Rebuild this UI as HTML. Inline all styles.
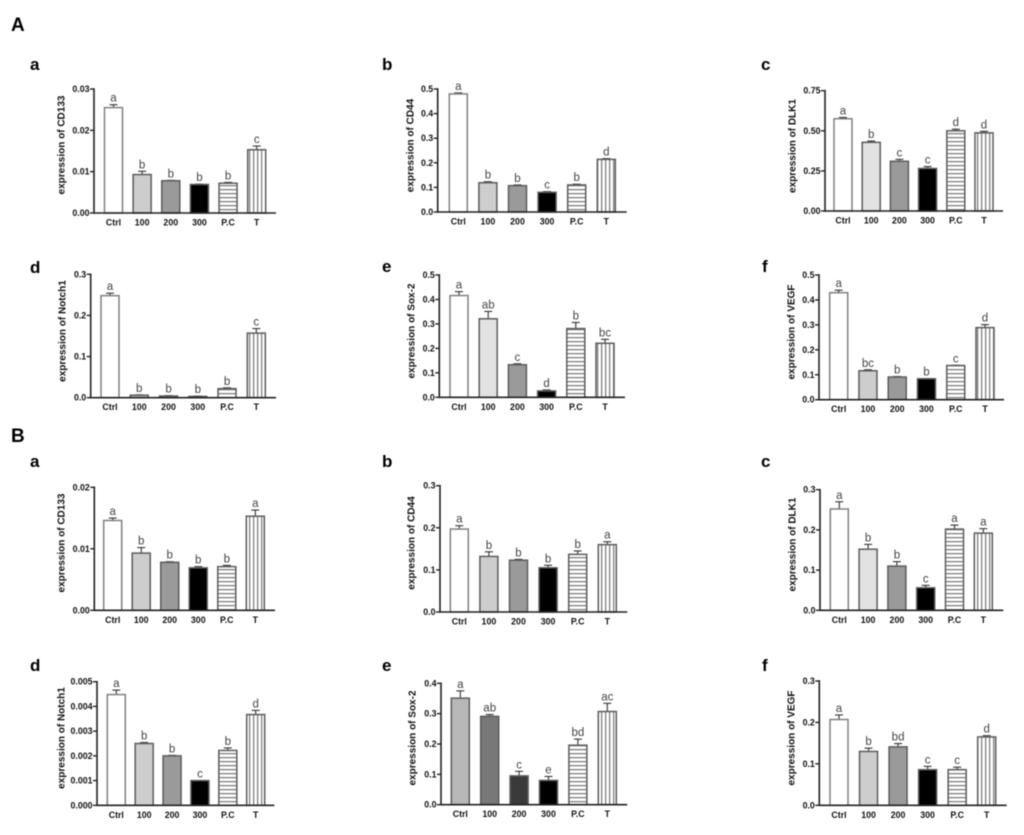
<!DOCTYPE html>
<html>
<head>
<meta charset="utf-8">
<title>Expression of stemness markers</title>
<style>
html,body{margin:0;padding:0;background:#fff;width:1024px;height:835px;overflow:hidden}
svg{display:block;filter:blur(0.5px);font-family:"Liberation Sans",Arial,sans-serif}
</style>
</head>
<body>
<svg id="figure" width="1024" height="835" viewBox="0 0 1024 835" xmlns="http://www.w3.org/2000/svg">
<defs>
<pattern id="hstripe" width="4" height="4" patternUnits="userSpaceOnUse"><rect width="4" height="4" fill="#fff"/><rect y="1" width="4" height="1.3" fill="#808080"/></pattern>
<pattern id="vstripe" width="4" height="4" patternUnits="userSpaceOnUse"><rect width="4" height="4" fill="#fff"/><rect x="1" width="1.3" height="4" fill="#808080"/></pattern>
</defs>
<text x="11" y="31" font-size="19" font-weight="bold" fill="#000">A</text>
<text x="11" y="442" font-size="19" font-weight="bold" fill="#000">B</text>
</svg>
<script>
const categories = ['Ctrl', '100', '200', '300', 'P.C', 'T'];

const aaValues = [0.0255, 0.0093, 0.0078, 0.0069, 0.0072, 0.0153];
const aaErrors = [0.0007, 0.0008, 0.0001, 0.0001, 0.0002, 0.0009];
const aaLetters = ['a', 'b', 'b', 'b', 'b', 'c'];
const aaTicks = ['0.00', '0.01', '0.02', '0.03'];

const abValues = [0.48, 0.119, 0.107, 0.08, 0.11, 0.214];
const abErrors = [0.004, 0.004, 0.003, 0.003, 0.003, 0.003];
const abLetters = ['a', 'b', 'b', 'c', 'b', 'd'];
const abTicks = ['0.0', '0.1', '0.2', '0.3', '0.4', '0.5'];

const acValues = [0.575, 0.428, 0.31, 0.265, 0.5, 0.487];
const acErrors = [0.008, 0.008, 0.012, 0.012, 0.01, 0.01];
const acLetters = ['a', 'b', 'c', 'c', 'd', 'd'];
const acTicks = ['0.00', '0.25', '0.50', '0.75'];

const adValues = [0.248, 0.006, 0.004, 0.003, 0.022, 0.157];
const adErrors = [0.006, 0.001, 0.001, 0.001, 0.002, 0.011];
const adLetters = ['a', 'b', 'b', 'b', 'b', 'c'];
const adTicks = ['0.0', '0.1', '0.2', '0.3'];

const aeValues = [0.416, 0.321, 0.133, 0.026, 0.281, 0.221];
const aeErrors = [0.016, 0.03, 0.004, 0.004, 0.025, 0.016];
const aeLetters = ['a', 'ab', 'c', 'd', 'b', 'bc'];
const aeTicks = ['0.0', '0.1', '0.2', '0.3', '0.4', '0.5'];

const afValues = [0.429, 0.116, 0.091, 0.084, 0.137, 0.289];
const afErrors = [0.01, 0.004, 0.002, 0.001, 0.001, 0.012];
const afLetters = ['a', 'bc', 'b', 'b', 'c', 'd'];
const afTicks = ['0.0', '0.1', '0.2', '0.3', '0.4', '0.5'];

const baValues = [0.0146, 0.0093, 0.0078, 0.0069, 0.0071, 0.0153];
const baErrors = [0.0004, 0.0009, 0.0001, 0.0002, 0.0002, 0.001];
const baLetters = ['a', 'b', 'b', 'b', 'b', 'a'];
const baTicks = ['0.00', '0.01', '0.02'];

const bbValues = [0.197, 0.132, 0.123, 0.105, 0.137, 0.16];
const bbErrors = [0.008, 0.011, 0.002, 0.006, 0.008, 0.007];
const bbLetters = ['a', 'b', 'b', 'b', 'b', 'a'];
const bbTicks = ['0.0', '0.1', '0.2', '0.3'];

const bcValues = [0.252, 0.152, 0.11, 0.056, 0.202, 0.192];
const bcErrors = [0.018, 0.012, 0.011, 0.006, 0.01, 0.011];
const bcLetters = ['a', 'b', 'b', 'c', 'a', 'a'];
const bcTicks = ['0.0', '0.1', '0.2', '0.3'];

const bdValues = [0.00448, 0.0025, 0.002, 0.001, 0.00222, 0.00367];
const bdErrors = [0.00018, 0.00004, 0.00002, 0, 0.0001, 0.00017];
const bdLetters = ['a', 'b', 'b', 'c', 'b', 'd'];
const bdTicks = ['0.000', '0.001', '0.002', '0.003', '0.004', '0.005'];

const beValues = [0.351, 0.291, 0.095, 0.08, 0.196, 0.307];
const beErrors = [0.024, 0.006, 0.015, 0.013, 0.02, 0.027];
const beLetters = ['a', 'ab', 'c', 'e', 'bd', 'ac'];
const beTicks = ['0.0', '0.1', '0.2', '0.3', '0.4'];

const bfValues = [0.207, 0.13, 0.141, 0.086, 0.086, 0.165];
const bfErrors = [0.011, 0.008, 0.008, 0.008, 0.006, 0.003];
const bfLetters = ['a', 'b', 'bd', 'c', 'c', 'd'];
const bfTicks = ['0.0', '0.1', '0.2', '0.3'];

const stdFills = ['#fff', '#cdcdcd', '#9a9a9a', '#000', 'url(#hstripe)', 'url(#vstripe)'];
const lightFills = ['#fff', '#e2e2e2', '#9a9a9a', '#000', 'url(#hstripe)', 'url(#vstripe)'];
const darkFills = ['#b8b8b8', '#787878', '#3a3a3a', '#000', 'url(#hstripe)', 'url(#vstripe)'];

const panels = [
  { id: 'a-a', tag: 'a', marker: 'CD133', values: aaValues, errors: aaErrors, letters: aaLetters, ticks: aaTicks, fills: stdFills,
    ax: 94, top: 89, base: 213, first: 113.5, last: 256.7, end: 276, tx: 62, ty: 145, lx: 30, ly: 70 },
  { id: 'a-b', tag: 'b', marker: 'CD44', values: abValues, errors: abErrors, letters: abLetters, ticks: abTicks, fills: stdFills,
    ax: 437.7, top: 89, base: 212, first: 458.3, last: 606.3, end: 626.7, tx: 411, ty: 145.5, lx: 382, ly: 70 },
  { id: 'a-c', tag: 'c', marker: 'DLK1', values: acValues, errors: acErrors, letters: acLetters, ticks: acTicks, fills: lightFills,
    ax: 825, top: 90.7, base: 211, first: 843, last: 984, end: 1003, tx: 793, ty: 146, lx: 761, ly: 70 },
  { id: 'a-d', tag: 'd', marker: 'Notch1', values: adValues, errors: adErrors, letters: adLetters, ticks: adTicks, fills: stdFills,
    ax: 90.7, top: 274.3, base: 397.7, first: 110, last: 256.3, end: 276, tx: 62.7, ty: 331, lx: 30, ly: 273 },
  { id: 'a-e', tag: 'e', marker: 'Sox-2', values: aeValues, errors: aeErrors, letters: aeLetters, ticks: aeTicks, fills: lightFills,
    ax: 439.3, top: 275, base: 397.3, first: 459, last: 605, end: 625, tx: 412, ty: 331, lx: 382, ly: 272 },
  { id: 'a-f', tag: 'f', marker: 'VEGF', values: afValues, errors: afErrors, letters: afLetters, ticks: afTicks, fills: stdFills,
    ax: 819, top: 275, base: 399.7, first: 838.7, last: 985, end: 1004, tx: 791.7, ty: 332, lx: 762, ly: 272 },
  { id: 'b-a', tag: 'a', marker: 'CD133', values: baValues, errors: baErrors, letters: baLetters, ticks: baTicks, fills: stdFills,
    ax: 94.3, top: 487.3, base: 610.3, first: 112.7, last: 255.3, end: 275, tx: 62, ty: 543, lx: 30, ly: 467 },
  { id: 'b-b', tag: 'b', marker: 'CD44', values: bbValues, errors: bbErrors, letters: bbLetters, ticks: bbTicks, fills: stdFills,
    ax: 440, top: 485.7, base: 612, first: 459.3, last: 607.3, end: 627.3, tx: 412, ty: 543, lx: 382, ly: 467 },
  { id: 'b-c', tag: 'c', marker: 'DLK1', values: bcValues, errors: bcErrors, letters: bcLetters, ticks: bcTicks, fills: lightFills,
    ax: 820, top: 489.7, base: 610.3, first: 839.3, last: 983.3, end: 1003.3, tx: 793, ty: 544.5, lx: 761, ly: 467 },
  { id: 'b-d', tag: 'd', marker: 'Notch1', values: bdValues, errors: bdErrors, letters: bdLetters, ticks: bdTicks, fills: stdFills,
    ax: 97, top: 681.7, base: 805.3, first: 116.3, last: 255.7, end: 274.3, tx: 62, ty: 738, lx: 30, ly: 671 },
  { id: 'b-e', tag: 'e', marker: 'Sox-2', values: beValues, errors: beErrors, letters: beLetters, ticks: beTicks, fills: darkFills,
    ax: 441, top: 683.3, base: 804.7, first: 460.3, last: 607.3, end: 627.3, tx: 413, ty: 738, lx: 382, ly: 671 },
  { id: 'b-f', tag: 'f', marker: 'VEGF', values: bfValues, errors: bfErrors, letters: bfLetters, ticks: bfTicks, fills: stdFills,
    ax: 819.3, top: 681, base: 805.3, first: 839, last: 986.7, end: 1006.7, tx: 792, ty: 738, lx: 762, ly: 671 }
];

const SVGNS = 'http://www.w3.org/2000/svg';
const BAR_W = 18;
const figure = document.getElementById('figure');

function svgEl(parent, tag, attrs, text) {
  const el = document.createElementNS(SVGNS, tag);
  for (const k in attrs) el.setAttribute(k, attrs[k]);
  if (text !== undefined) el.textContent = text;
  parent.appendChild(el);
  return el;
}

function drawPanel(p) {
  const g = svgEl(figure, 'g', {});
  
  

  const maxVal = Number(p.ticks[p.ticks.length - 1]);
  const yScale = v => p.base - (v / maxVal) * (p.base - p.top);
  const xScale = i => p.first + i * (p.last - p.first) / (categories.length - 1);

  const tagText = svgEl(g, 'text', { x: p.lx, y: p.ly, 'font-size': 17, 'font-weight': 'bold', fill: '#000' }, p.tag);
  
  

  const title = svgEl(g, 'text', {
    x: p.tx, y: p.ty, 'font-size': 10, 'font-weight': 'bold', fill: '#111', 'text-anchor': 'middle',
    transform: 'rotate(-90 ' + p.tx + ' ' + p.ty + ')', 'dominant-baseline': 'middle'
  }, 'expression of ' + p.marker);
  
  

  categories.forEach((cat, i) => {
    const x = xScale(i);
    const yv = yScale(p.values[i]);
    const ye = yScale(p.values[i] + p.errors[i]);

    const stem = svgEl(g, 'line', { x1: x, x2: x, y1: yv, y2: ye, stroke: '#333', 'stroke-width': 1.1 });
    
    

    const cap = svgEl(g, 'line', { x1: x - 4, x2: x + 4, y1: ye, y2: ye, stroke: '#333', 'stroke-width': 1.1 });
    
    

    const bar = svgEl(g, 'rect', {
      x: x - BAR_W / 2, y: yv, width: BAR_W, height: p.base - yv,
      fill: p.fills[i], stroke: i === 0 && p.fills[0] === '#fff' ? '#808080' : '#5c5c5c', 'stroke-width': 1.5
    });
    
    

    const letter = svgEl(g, 'text', { x: x, y: ye - 3, 'font-size': 11.5, fill: '#444', 'text-anchor': 'middle' }, p.letters[i]);
    
    

    const label = svgEl(g, 'text', { x: x, y: p.base + 12.5, 'font-size': 8.8, 'font-weight': 'bold', fill: '#111', 'text-anchor': 'middle' }, cat);
    
    
  });

  const yAxis = svgEl(g, 'line', { x1: p.ax, x2: p.ax, y1: p.top - 0.8, y2: p.base + 0.8, stroke: '#222', 'stroke-width': 1.6 });
  
  

  const xAxis = svgEl(g, 'line', { x1: p.ax, x2: p.end, y1: p.base, y2: p.base, stroke: '#222', 'stroke-width': 1.6 });
  
  

  p.ticks.forEach(t => {
    const y = yScale(Number(t));
    const tick = svgEl(g, 'line', { x1: p.ax - 4, x2: p.ax, y1: y, y2: y, stroke: '#222', 'stroke-width': 1.4 });
    
    

    const tl = svgEl(g, 'text', { x: p.ax - 4.5, y: y + 3, 'font-size': 8.8, 'font-weight': 'bold', fill: '#111', 'text-anchor': 'end' }, t);
    
    
  });
}

panels.forEach(drawPanel);
</script>
</body>
</html>
